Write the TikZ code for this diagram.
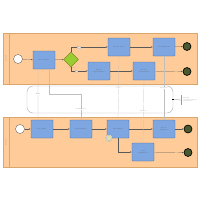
\documentclass[tikz,border=0pt]{standalone}
\usepackage{tikz}
\usetikzlibrary{shapes,arrows.meta,positioning,calc}
\usepackage{xcolor}
\definecolor{poolfill}{HTML}{FFCC99}
\definecolor{pooldraw}{HTML}{D9A66C}
\definecolor{taskfill}{HTML}{7EA6E0}
\definecolor{taskdraw}{HTML}{4A6A99}
\definecolor{gatefill}{HTML}{9ACD32}
\definecolor{endfill}{HTML}{4B5A2E}

\begin{document}
\begin{tikzpicture}[
    x=0.05cm, y=-0.05cm,
    font=\fontsize{1.8}{2.2}\selectfont,
    pool/.style={draw=pooldraw, fill=poolfill, line width=0.4pt},
    tasknode/.style={rectangle, draw=taskdraw, fill=taskfill, line width=0.5pt, minimum width=1.1cm, minimum height=0.9cm, rounded corners=1pt, align=center, text=black!70},
    startev/.style={circle, draw=black!70, fill=white, line width=0.4pt, minimum size=0.45cm, inner sep=0pt},
    endev/.style={circle, draw=black, fill=endfill, line width=0.9pt, minimum size=0.4cm, inner sep=0pt},
    gate/.style={diamond, draw=olive!80!black, fill=gatefill, line width=0.4pt, minimum size=0.75cm, inner sep=0pt},
    boundev/.style={circle, draw=black!50, fill=olive!25, double, line width=0.3pt, minimum size=0.3cm, inner sep=0pt},
    seqflow/.style={-{Latex[length=0.8mm,width=0.6mm]}, draw=black!65, line width=0.3pt},
    msgflow/.style={draw=black!25, line width=0.3pt},
    flowlabel/.style={fill=poolfill!60!white, draw=black!20, line width=0.2pt, inner sep=0.4pt, text=black!60},
    msglabel/.style={fill=white, inner sep=0.3pt, text=black!60}
]
\useasboundingbox (0,0) rectangle (200,200);
\fill[white] (0,0) rectangle (200,200);

% pools
\draw[pool] (3,33) rectangle (197,84);
\draw[pooldraw, line width=0.3pt] (9,33) -- (9,84);
\node[rotate=90, text=black!60] (lbltop) at (6,58.5) {Supplier};
\draw[pool] (3,117) rectangle (197,167);
\draw[pooldraw, line width=0.3pt] (9,117) -- (9,167);
\node[rotate=90, text=black!60] (lblbot) at (6,142) {Customer};

% group between the pools
\node[draw=black!30, fill=white, line width=0.6pt, rounded corners=0.3cm, minimum width=7.3cm, minimum height=1.35cm] (grp) at (100,99.5) {};
\node[fill=black, minimum size=0.08cm, inner sep=0pt] (grpmark) at (grp.east) {};
\node[align=left, text=black!60, anchor=west] (note) at (181,100) {Message\\exchange between\\participants};
\draw[black!40, line width=0.3pt] (note.north west) -- (note.south west);
\draw[black!60, line width=0.3pt] (grpmark) -- (note.west);

% supplier lane
\node[startev] (s1) at (18,59) {};
\node[tasknode] (recv) at (44,60) {Receive Order};
\node[gate] (chk) at (71,59.5) {};
\node[text=black!60] (chklbl) at (72,68) {In stock?};
\node[tasknode] (resv) at (119,47) {Reserve Stock};
\node[tasknode] (send) at (164,47) {Send Shipment};
\node[endev] (e1) at (187,46.5) {};
\node[tasknode] (reqr) at (99,71) {Request\\Replenishment};
\node[tasknode] (rcfm) at (144,71) {Receive\\Confirmation};
\node[endev] (e2) at (187,71.5) {};

\draw[seqflow] (s1) -- (recv);
\draw[seqflow] (recv) -- (chk);
\draw[seqflow] (chk.north) |- (resv.west) node[flowlabel, pos=0.6] (yes) {Yes};
\draw[seqflow] (chk.south) |- (reqr.west) node[flowlabel, pos=0.65] (no) {No};
\draw[seqflow] (resv) -- (send);
\draw[seqflow] (send) -- (e1);
\draw[seqflow] (reqr) -- (rcfm);
\draw[seqflow] (rcfm) -- (e2);

% customer lane
\node[startev] (s2) at (20,129) {};
\node[tasknode] (plac) at (42,129) {Place Order};
\node[tasknode] (conf) at (81,129) {Confirm Order};
\node[tasknode] (chkg) at (118,129) {Check Goods};
\node[boundev] (tmr) at (109,138) {};
\node[tasknode] (rshp) at (164,129) {Receive\\Shipment};
\node[endev] (e3) at (188,129) {};
\node[tasknode] (scfm) at (143,152) {Send\\Confirmation};
\node[endev] (e4) at (188,152.5) {};

\draw[seqflow] (s2) -- (plac);
\draw[seqflow] (plac) -- (conf);
\draw[seqflow] (conf) -- (chkg);
\draw[seqflow] (chkg) -- (rshp);
\draw[seqflow] (rshp) -- (e3);
\draw[seqflow] (chkg.south) |- (scfm.west);
\draw[seqflow] (scfm) -- (e4);

% message flows
\draw[msgflow] ([xshift=-0.3cm]recv.south) -- ([xshift=-0.2cm]plac.north) node[msglabel, pos=0.5] (m1) {Order};
\draw[msgflow] ([xshift=0.25cm]recv.south) -- ++(0,24.5) -| (conf.north) node[msglabel, pos=0.8] (m2) {Confirmation};
\draw[msgflow] (resv.south) -- (chkg.north) node[msglabel, pos=0.5] (m3) {Stock};
\draw[msgflow] (rcfm.south) -- (scfm.north) node[msglabel, pos=0.5] (m4) {Request};
\draw[msgflow] (send.south) -- (rshp.north) node[msglabel, pos=0.5] (m5) {Shipment};
\end{tikzpicture}
\end{document}
